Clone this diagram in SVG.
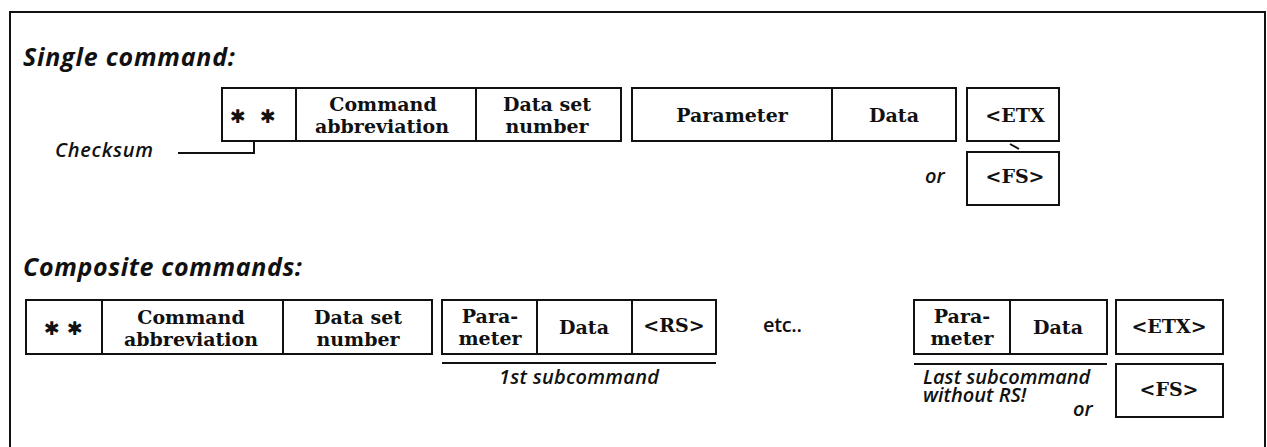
<svg xmlns="http://www.w3.org/2000/svg" width="1267" height="447" viewBox="0 0 1267 447">
<style>
.box{fill:none;stroke:#111;stroke-width:2}
.ln{fill:none;stroke:#111;stroke-width:2}
.cell{font-family:"DejaVu Serif","Liberation Serif",serif;font-weight:bold;font-size:19px;fill:#111;text-anchor:middle}
.star{font-family:"DejaVu Sans","Liberation Sans",sans-serif;font-weight:bold;font-size:19px;fill:#111;text-anchor:middle}
.head{font-family:"Open Sans","Noto Sans",sans-serif;font-weight:700;font-style:italic;font-size:25px;fill:#111}
.lbl{font-family:"Open Sans","Noto Sans",sans-serif;font-weight:600;font-style:italic;font-size:20px;fill:#111}
.up{font-style:normal}
</style>
<rect x="0" y="0" width="1267" height="447" fill="#fff"/>
<g id="frame"><path class="ln" d="M10,447 V12 H1265 V447"/></g>

<text class="head" x="23" y="66" textLength="212">Single command:</text>
<text class="head" x="23" y="276" textLength="279">Composite commands:</text>

<!-- Single command row -->
<g id="s-checksum"><rect class="box" x="222" y="88" width="74" height="53"/><text class="star" y="123"><tspan x="238">✱</tspan><tspan x="268">✱</tspan></text></g>
<g id="s-cmd"><rect class="box" x="296" y="88" width="180" height="53"/><text class="cell"><tspan x="383" y="111">Command</tspan><tspan x="382" y="133">abbreviation</tspan></text></g>
<g id="s-dsn"><rect class="box" x="476" y="88" width="145" height="53"/><text class="cell"><tspan x="547" y="111">Data set</tspan><tspan x="547" y="133">number</tspan></text></g>
<g id="s-param"><rect class="box" x="632" y="88" width="200" height="53"/><text class="cell" x="732" y="122">Parameter</text></g>
<g id="s-data"><rect class="box" x="832" y="88" width="124" height="53"/><text class="cell" x="894" y="122">Data</text></g>
<g id="s-etx"><rect class="box" x="967" y="88" width="92" height="53"/><text class="cell" x="1015" y="122">&lt;ETX</text></g>
<g id="s-fs"><rect class="box" x="967" y="152" width="92" height="53"/><text class="cell" x="1015" y="183">&lt;FS&gt;</text></g>
<text class="lbl" x="925" y="183">or</text>
<text class="lbl" x="55" y="157" textLength="98">Checksum</text>

<!-- Composite command row -->
<g id="c-checksum"><rect class="box" x="26" y="300" width="76" height="54"/><text class="star" y="335"><tspan x="52">✱</tspan><tspan x="75">✱</tspan></text></g>
<g id="c-cmd"><rect class="box" x="102" y="300" width="181" height="54"/><text class="cell"><tspan x="191" y="324">Command</tspan><tspan x="191" y="346">abbreviation</tspan></text></g>
<g id="c-dsn"><rect class="box" x="283" y="300" width="149" height="54"/><text class="cell"><tspan x="358" y="324">Data set</tspan><tspan x="358" y="346">number</tspan></text></g>
<g id="c-param1"><rect class="box" x="442" y="300" width="95" height="54"/><text class="cell"><tspan x="490" y="323">Para-</tspan><tspan x="490" y="345">meter</tspan></text></g>
<g id="c-data1"><rect class="box" x="537" y="300" width="95" height="54"/><text class="cell" x="584" y="334">Data</text></g>
<g id="c-rs"><rect class="box" x="632" y="300" width="84" height="54"/><text class="cell" x="674" y="332">&lt;RS&gt;</text></g>
<text class="lbl up" x="763" y="332" textLength="39">etc..</text>
<g id="c-paramN"><rect class="box" x="914" y="300" width="96" height="54"/><text class="cell"><tspan x="962" y="323">Para-</tspan><tspan x="962" y="345">meter</tspan></text></g>
<g id="c-dataN"><rect class="box" x="1010" y="300" width="97" height="54"/><text class="cell" x="1058" y="334">Data</text></g>
<g id="c-etx"><rect class="box" x="1116" y="300" width="107" height="54"/><text class="cell" x="1169" y="333">&lt;ETX&gt;</text></g>
<g id="c-fs"><rect class="box" x="1116" y="364" width="107" height="53"/><text class="cell" x="1169" y="396">&lt;FS&gt;</text></g>
<text class="lbl" x="499" y="384" textLength="160">1st subcommand</text>
<text class="lbl"><tspan x="923" y="384">Last subcommand</tspan><tspan x="923" y="402">without RS!</tspan></text>
<text class="lbl" x="1073" y="416">or</text>

<g id="connectors">
<path class="ln" d="M178,153 H254 V141"/>
<path class="ln" d="M1010,144 L1019,149"/>
<path class="ln" stroke-width="2.5" d="M442,363 H716"/>
<path class="ln" stroke-width="2.5" d="M914,364 H1107"/>
</g>
</svg>
